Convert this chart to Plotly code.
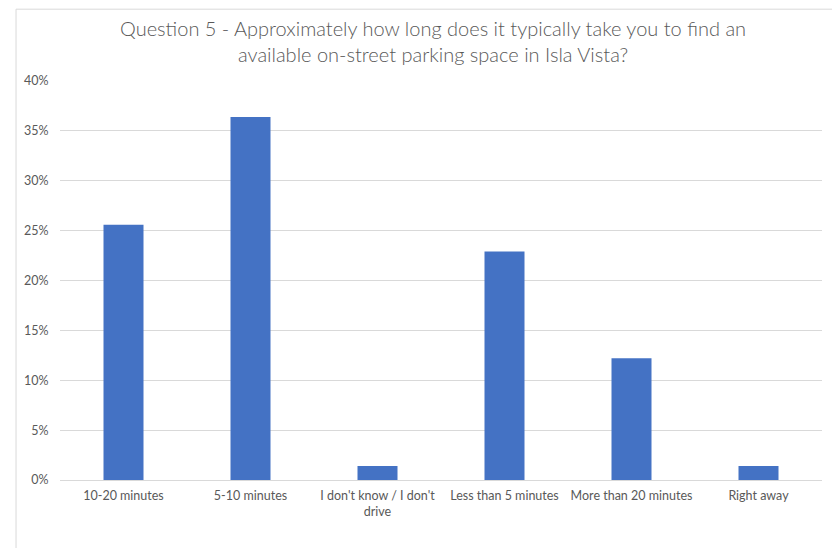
import plotly.graph_objects as go

categories = ["10-20 minutes", "5-10 minutes", "I don't know / I don't<br>drive",
              "Less than 5 minutes", "More than 20 minutes", "Right away"]
values = [0.256, 0.364, 0.014, 0.229, 0.122, 0.014]
y_ticks = [0, 0.05, 0.10, 0.15, 0.20, 0.25, 0.30, 0.35, 0.40]
y_tick_labels = ["0%", "5%", "10%", "15%", "20%", "25%", "30%", "35%", "40%"]
title_text = ("Question 5 - Approximately how long does it typically take you to find an<br>"
              "available on-street parking space in Isla Vista?")

fig = go.Figure(go.Bar(x=categories, y=values, marker_color="#4472C4",
                       marker_line_width=0))

fig.update_layout(
    width=832, height=540,
    margin=dict(l=52, r=18, t=73, b=68),
    paper_bgcolor="white", plot_bgcolor="white",
    bargap=0.685,
    showlegend=False,
    font=dict(family="Lato, Calibri, sans-serif", color="#595959"),
    annotations=[dict(text=title_text, xref="paper", yref="paper",
                      x=0.4895, y=1.099, xanchor="center", yanchor="middle",
                      showarrow=False, align="center",
                      font=dict(size=20, color="#595959", weight=300,
                                family="Lato, Calibri, sans-serif"))],
    shapes=[dict(type="rect", xref="paper", yref="paper",
                 x0=-0.0682 + 8 / 762, x1=1.2, y0=-0.4, y1=1.18,
                 line=dict(color="#D9D9D9", width=1), fillcolor="rgba(0,0,0,0)", layer="below")],
)
fig.update_xaxes(showgrid=False, showline=True, linecolor="#D9D9D9", linewidth=1,
                 ticks="outside", ticklen=4, tickcolor="rgba(0,0,0,0)",
                 tickfont=dict(size=12.5, color="#595959"))
fig.update_yaxes(range=[0, 0.40], tickvals=y_ticks, ticktext=y_tick_labels,
                 showgrid=True, gridcolor="#D9D9D9", gridwidth=1, zeroline=False,
                 showline=False, ticks="outside", ticklen=8, tickcolor="rgba(0,0,0,0)",
                 tickfont=dict(size=12.5, color="#595959"))

fig.write_html("out.html")
